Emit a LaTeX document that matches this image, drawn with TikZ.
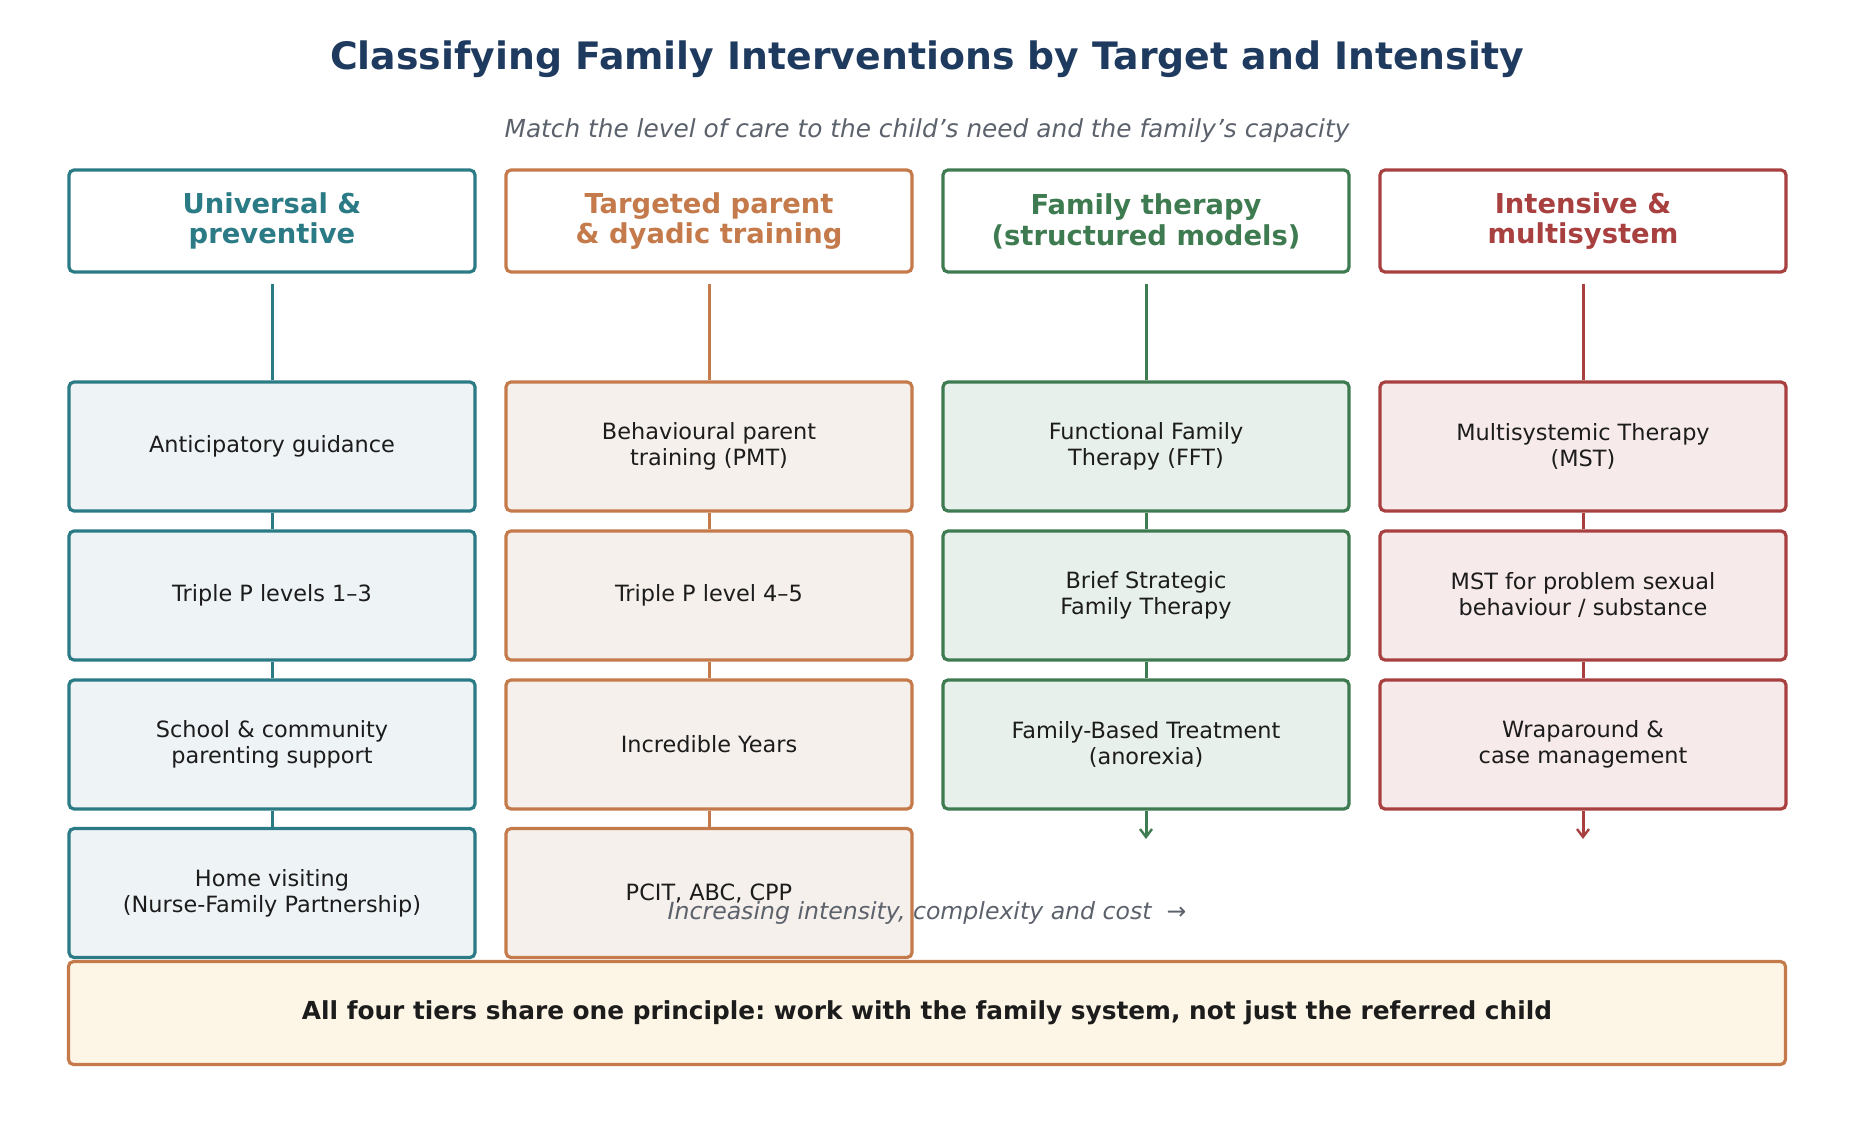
\documentclass[tikz,border=0pt]{standalone}
\usepackage{fontspec}
\setmainfont{DejaVu Sans}
\usetikzlibrary{arrows.meta, positioning}
\definecolor{TitleNavy}{RGB}{31,58,95}
\definecolor{NoteGrey}{RGB}{92,98,108}
\definecolor{InkDark}{RGB}{28,28,28}
\definecolor{TierTeal}{RGB}{42,123,133}
\definecolor{TierOrange}{RGB}{196,122,74}
\definecolor{TierGreen}{RGB}{62,123,80}
\definecolor{TierRed}{RGB}{168,64,64}
\definecolor{FillTeal}{RGB}{238,243,246}
\definecolor{FillOrange}{RGB}{245,240,235}
\definecolor{FillGreen}{RGB}{232,240,235}
\definecolor{FillRed}{RGB}{247,234,234}
\definecolor{FillCream}{RGB}{253,245,230}
\frenchspacing

\begin{document}
\begin{tikzpicture}[
    x=0.5pt,
    y=-0.5pt,
    tierhead/.style={draw, line width=1.6pt, rounded corners=2.5pt, fill=white,
      minimum width=203pt, minimum height=51pt, align=center,
      font=\fontsize{13.7}{15.4}\selectfont\bfseries},
    tierbox/.style={draw, line width=1.6pt, rounded corners=2.5pt,
      minimum width=203pt, minimum height=64.5pt, align=center, text=InkDark,
      font=\fontsize{11.2}{13}\selectfont},
    link/.style={line width=1.5pt},
    tip/.style={-{Straight Barb[length=4pt, width=6pt, line width=1.2pt]}}
]
\useasboundingbox (0,0) rectangle (1854,1140);

% Title and subtitle
\node[font=\fontsize{18.9}{22}\selectfont\bfseries, text=TitleNavy] (title) at (927,59.5)
  {Classifying Family Interventions by Target and Intensity};
\node[font=\fontsize{12.4}{14}\selectfont\itshape, text=NoteGrey] (subtitle) at (927,131)
  {Match the level of care to the child’s need and the family’s capacity};

% Column headers
\foreach \i/\col/\lab in {1/TierTeal/{Universal \&\\preventive},
                          2/TierOrange/{Targeted parent\\\& dyadic training},
                          3/TierGreen/{Family therapy\\(structured models)},
                          4/TierRed/{Intensive \&\\multisystem}}{
  \node[tierhead, draw=\col, text=\col] (head\i) at (\i*437-165,221) {\lab};
}

% Universal & preventive
\node[tierbox, draw=TierTeal, fill=FillTeal] (u1) at (272,446.5) {Anticipatory guidance};
\node[tierbox, draw=TierTeal, fill=FillTeal] (u2) at (272,595.5) {Triple P levels 1–3};
\node[tierbox, draw=TierTeal, fill=FillTeal] (u3) at (272,744.5) {School \& community\\parenting support};
\node[tierbox, draw=TierTeal, fill=FillTeal] (u4) at (272,893) {Home visiting\\(Nurse-Family Partnership)};

% Targeted parent & dyadic training
\node[tierbox, draw=TierOrange, fill=FillOrange] (t1) at (709,446.5) {Behavioural parent\\training (PMT)};
\node[tierbox, draw=TierOrange, fill=FillOrange] (t2) at (709,595.5) {Triple P level 4–5};
\node[tierbox, draw=TierOrange, fill=FillOrange] (t3) at (709,744.5) {Incredible Years};
\node[tierbox, draw=TierOrange, fill=FillOrange] (t4) at (709,893) {PCIT, ABC, CPP};

% Family therapy
\node[tierbox, draw=TierGreen, fill=FillGreen] (f1) at (1146,446.5) {Functional Family\\Therapy (FFT)};
\node[tierbox, draw=TierGreen, fill=FillGreen] (f2) at (1146,595.5) {Brief Strategic\\Family Therapy};
\node[tierbox, draw=TierGreen, fill=FillGreen] (f3) at (1146,744.5) {Family-Based Treatment\\(anorexia)};
\coordinate (fend) at (1146,839);

% Intensive & multisystem
\node[tierbox, draw=TierRed, fill=FillRed] (m1) at (1583,446.5) {Multisystemic Therapy\\(MST)};
\node[tierbox, draw=TierRed, fill=FillRed] (m2) at (1583,595.5) {MST for problem sexual\\behaviour / substance};
\node[tierbox, draw=TierRed, fill=FillRed] (m3) at (1583,744.5) {Wraparound \&\\case management};
\coordinate (mend) at (1583,839);

% Connectors
\draw[link, TierTeal, shorten <=5pt] (head1) -- (u1);
\foreach \a/\b in {u1/u2,u2/u3,u3/u4}{
  \draw[link, TierTeal] (\a) -- (\b);
}
\draw[link, TierOrange, shorten <=5pt] (head2) -- (t1);
\foreach \a/\b in {t1/t2,t2/t3,t3/t4}{
  \draw[link, TierOrange] (\a) -- (\b);
}
\draw[link, TierGreen, shorten <=5pt] (head3) -- (f1);
\foreach \a/\b in {f1/f2,f2/f3}{
  \draw[link, TierGreen] (\a) -- (\b);
}
\draw[link, tip, TierGreen] (f3) -- (fend);
\draw[link, TierRed, shorten <=5pt] (head4) -- (m1);
\foreach \a/\b in {m1/m2,m2/m3}{
  \draw[link, TierRed] (\a) -- (\b);
}
\draw[link, tip, TierRed] (m3) -- (mend);

% Intensity note
\node[font=\fontsize{11.8}{13}\selectfont\itshape, text=NoteGrey] (note) at (927,912.5)
  {Increasing intensity, complexity and cost~~→};

% Shared principle
\node[draw=TierOrange, fill=FillCream, line width=1.6pt, rounded corners=2.5pt,
      minimum width=858.5pt, minimum height=51.5pt, text=InkDark,
      font=\fontsize{12.4}{14}\selectfont\bfseries] (principle) at (927,1013)
  {All four tiers share one principle: work with the family system, not just the referred child};

\end{tikzpicture}
\end{document}
